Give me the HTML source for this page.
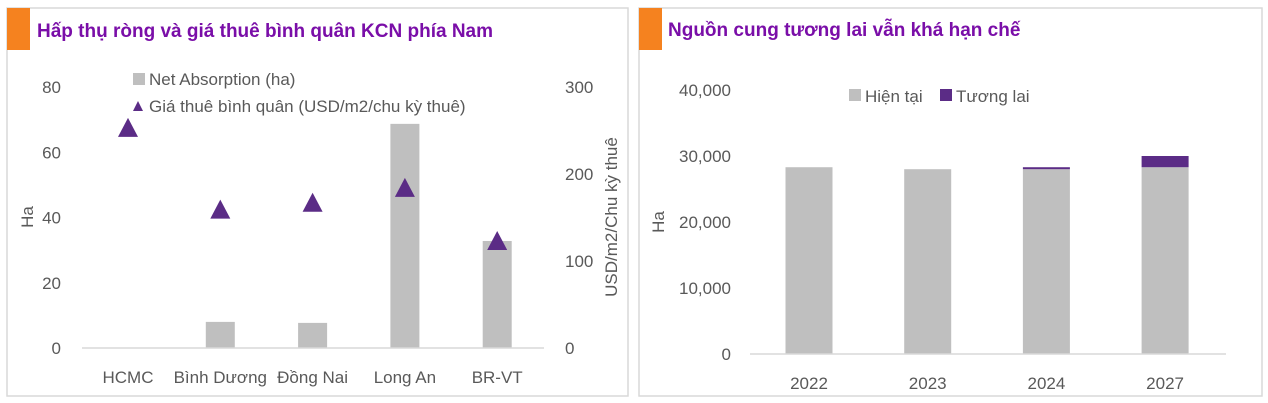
<!DOCTYPE html>
<html><head><meta charset="utf-8"><style>
html,body{margin:0;padding:0;background:#fff;width:1268px;height:403px;overflow:hidden}
svg{display:block;font-family:"Liberation Sans",sans-serif}
.t{fill:#595959;font-size:17px}
.ttl{fill:#7a0ea8;font-size:19px;font-weight:bold}
</style></head><body>
<svg id="s" width="1268" height="403">
<rect x="7" y="8" width="621" height="388" fill="#fff" stroke="#d9d9d9" stroke-width="1.5"/>
<rect x="7" y="8" width="23" height="42" fill="#f5821f"/>
<text x="37" y="37" class="ttl">Hấp thụ ròng và giá thuê bình quân KCN phía Nam</text>
<rect x="639" y="8" width="623" height="388" fill="#fff" stroke="#d9d9d9" stroke-width="1.5"/>
<rect x="639" y="8" width="23" height="42" fill="#f5821f"/>
<text x="668" y="36" class="ttl">Nguồn cung tương lai vẫn khá hạn chế</text>

<g id="L"></g><g id="R"></g>

<rect x="133" y="73" width="12" height="12" fill="#bfbfbf"/>
<text x="149" y="85" class="t" font-size="16">Net Absorption (ha)</text>
<polygon points="133,111 143,111 138,101" fill="#5b2c86"/>
<text x="149" y="112" class="t" font-size="16">Giá thuê bình quân (USD/m2/chu kỳ thuê)</text>
<text transform="translate(33,217) rotate(-90)" text-anchor="middle" class="t" font-size="16">Ha</text>
<text transform="translate(617,217) rotate(-90)" text-anchor="middle" class="t" font-size="16">USD/m2/Chu kỳ thuê</text>

<rect x="849" y="89" width="12" height="12" fill="#bfbfbf"/>
<text x="865" y="102" class="t">Hiện tại</text>
<rect x="940" y="89" width="12" height="12" fill="#5b2c86"/>
<text x="956" y="102" class="t">Tương lai</text>
<text transform="translate(664,222) rotate(-90)" text-anchor="middle" class="t" font-size="16">Ha</text>
</svg>
<script>
const NS="http://www.w3.org/2000/svg";
const leftCats=["HCMC","Bình Dương","Đồng Nai","Long An","BR-VT"];
const netAbs=[0,8,7.7,68.7,32.8];
const price=[253,159,167,184,123];
const leftTicks=[0,20,40,60,80];
const rightTicks=[0,100,200,300];
const years=["2022","2023","2024","2027"];
const current=[28300,28000,28000,28300];
const future=[0,0,300,1700];
const supplyTicks=[0,10000,20000,30000,40000];

function mk(p,tag,a,txt){const e=document.createElementNS(NS,tag);for(const k in a)e.setAttribute(k,a[k]);if(txt!=null)e.textContent=txt;p.appendChild(e);return e;}
const L=document.getElementById("L"),R=document.getElementById("R");
// left chart
const yL=v=>348-v*(261/80), yP=v=>348-v*(261/300), xL=i=>128+i*92.3;
leftTicks.forEach(t=>{const e=mk(L,"text",{x:61,y:yL(t)+6,"text-anchor":"end",class:"t"},t);

});
rightTicks.forEach(t=>{const e=mk(L,"text",{x:565,y:yP(t)+6,class:"t"},t);

});
netAbs.forEach((v,i)=>{const e=mk(L,"rect",{x:xL(i)-14.5,y:yL(v),width:29,height:348-yL(v),fill:"#bfbfbf"});

});
const ax=mk(L,"line",{x1:82,x2:544,y1:348,y2:348,stroke:"#d9d9d9","stroke-width":1.5});


price.forEach((v,i)=>{const x=xL(i),y=yP(v);const e=mk(L,"polygon",{points:`${x-10},${y+9} ${x+10},${y+9} ${x},${y-10}`,fill:"#5b2c86"});

});
leftCats.forEach((c,i)=>{const e=mk(L,"text",{x:xL(i),y:383,"text-anchor":"middle",class:"t"},c);

});
// right chart
const yR=v=>354-v*(264/40000), xR=i=>809+i*118.7;
supplyTicks.forEach(t=>{const e=mk(R,"text",{x:731,y:yR(t)+6,"text-anchor":"end",class:"t"},t.toLocaleString("en-US"));

});
years.forEach((yv,i)=>{const x=xR(i)-23.5;
const c=mk(R,"rect",{x:x,y:yR(current[i]),width:47,height:354-yR(current[i]),fill:"#bfbfbf"});


if(future[i]>0){const f=mk(R,"rect",{x:x,y:yR(current[i]+future[i]),width:47,height:yR(current[i])-yR(current[i]+future[i]),fill:"#5b2c86"});

}
const t=mk(R,"text",{x:xR(i),y:389,"text-anchor":"middle",class:"t"},yv);

});
const ax2=mk(R,"line",{x1:750,x2:1226,y1:354,y2:354,stroke:"#d9d9d9","stroke-width":1.5});


</script>
</body></html>
